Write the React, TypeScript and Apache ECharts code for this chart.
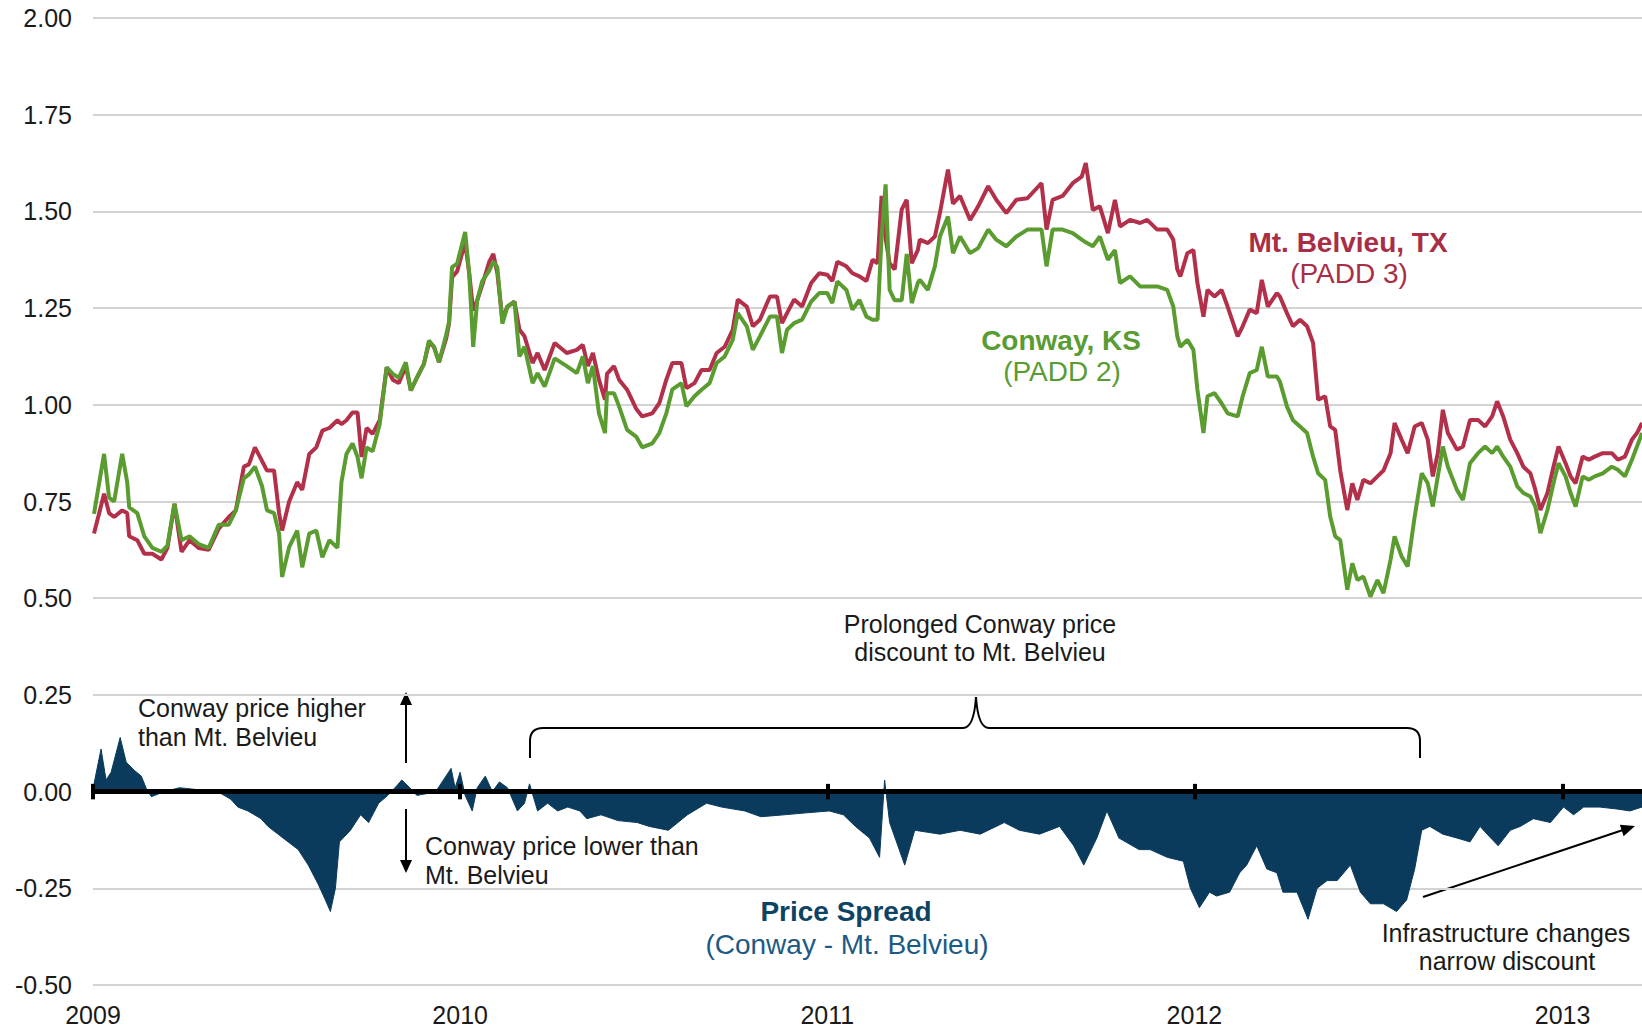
import React, { useEffect, useRef } from "react";
import * as echarts from "echarts";

// ---------- data (x = days since 2009-01-01) ----------
const yearTicks = [2009, 2010, 2011, 2012, 2013];
const yMin = -0.5;
const yMax = 2.0;
const yStep = 0.25;

const priceDays = [
  1, 11, 16, 21, 29, 34, 36, 44, 51, 59, 68, 74, 81, 88, 96, 105, 115, 125, 135, 142,
  150, 155, 161, 168, 173, 180, 185, 188, 195, 203, 208, 215, 222, 228, 235, 243, 247, 252, 258, 263,
  267, 272, 278, 285, 292, 298, 304, 311, 316, 322, 329, 334, 339, 344, 351, 354, 357, 362, 370, 374,
  378, 382, 387, 394, 398, 402, 407,
  412, 419, 424, 429, 437, 442, 449, 459, 471, 481, 487, 492, 497, 503, 509, 511, 518, 523, 531, 540,
  546, 556, 563, 570, 576, 585, 590, 598, 605, 613, 620, 628, 636, 641, 650, 656, 663, 673, 680, 685,
  690, 697, 705, 714, 722, 730, 735, 740, 749, 755, 762, 769, 775, 780, 784, 788, 792, 797, 804, 809,
  814, 820,
  822, 830, 837, 842, 850, 855, 862, 872, 880, 890, 898, 908, 918, 929, 943, 948, 954, 964, 974, 983,
  987, 994, 1001, 1009, 1016, 1021, 1031, 1041, 1048, 1058, 1068, 1074, 1078, 1081, 1088, 1094, 1098, 1104, 1108, 1115,
  1122, 1128, 1138, 1143, 1150, 1157, 1162, 1168, 1177, 1180,
  1187, 1193, 1200, 1207, 1213, 1218, 1225, 1230, 1235, 1240, 1247, 1252, 1257, 1263, 1270, 1277, 1283, 1290, 1294, 1301,
  1307, 1314, 1321, 1327, 1332, 1337, 1342, 1347, 1356, 1362, 1369, 1377, 1384, 1391, 1396, 1402, 1409, 1416, 1422, 1429,
  1434, 1439, 1446, 1452, 1457, 1464, 1469, 1474, 1481, 1487, 1493, 1501, 1510, 1516, 1523, 1530, 1535, 1540,
];

// Mt. Belvieu, TX (PADD 3)
const belvieu = [
  0.667, 0.77, 0.72, 0.71, 0.727, 0.72, 0.66, 0.65, 0.615, 0.615, 0.6, 0.63, 0.744, 0.62, 0.65, 0.63, 0.625, 0.68, 0.71, 0.727,
  0.84, 0.846, 0.89, 0.855, 0.83, 0.83, 0.72, 0.675, 0.75, 0.8, 0.78, 0.873, 0.89, 0.933, 0.94, 0.96, 0.95, 0.96, 0.98, 0.98,
  0.865, 0.94, 0.925, 0.96, 1.097, 1.065, 1.056, 1.1, 1.037, 1.07, 1.106, 1.16, 1.15, 1.11, 1.17, 1.21, 1.33, 1.345, 1.42, 1.34,
  1.244, 1.27, 1.31, 1.37, 1.39, 1.34, 1.22,
  1.254, 1.267, 1.194, 1.177, 1.108, 1.134, 1.09, 1.16, 1.134, 1.142, 1.155, 1.1, 1.134, 1.065, 1.013, 1.08, 1.1, 1.065, 1.039, 0.99,
  0.97, 0.978, 1.004, 1.065, 1.108, 1.108, 1.043, 1.056, 1.09, 1.09, 1.134, 1.15, 1.194, 1.272, 1.254, 1.203, 1.22, 1.28, 1.28, 1.211,
  1.237, 1.272, 1.254, 1.315, 1.34, 1.336, 1.32, 1.37, 1.358, 1.34, 1.332, 1.32, 1.375, 1.366, 1.54, 1.43, 1.366, 1.35, 1.505, 1.53,
  1.366, 1.4,
  1.427, 1.418, 1.435, 1.496, 1.608, 1.52, 1.54, 1.478, 1.513, 1.565, 1.53, 1.496, 1.53, 1.534, 1.573, 1.453, 1.53, 1.54, 1.573, 1.59,
  1.625, 1.504, 1.513, 1.444, 1.53, 1.461, 1.478, 1.47, 1.478, 1.453, 1.453, 1.427, 1.35, 1.332, 1.392, 1.4, 1.315, 1.228, 1.297, 1.28,
  1.297, 1.254, 1.177, 1.203, 1.246, 1.237, 1.323, 1.254, 1.289, 1.28,
  1.237, 1.203, 1.22, 1.203, 1.16, 1.013, 1.022, 0.944, 0.935, 0.83, 0.728, 0.797, 0.754, 0.806, 0.797, 0.815, 0.83, 0.875, 0.953, 0.91,
  0.875, 0.944, 0.953, 0.91, 0.815, 0.875, 0.987, 0.927, 0.884, 0.892, 0.961, 0.961, 0.944, 0.97, 1.009, 0.97, 0.91, 0.875, 0.84, 0.823,
  0.78, 0.728, 0.772, 0.84, 0.892, 0.849, 0.815, 0.797, 0.866, 0.858, 0.866, 0.875, 0.875, 0.858, 0.866, 0.91, 0.927, 0.953,
];

// Conway, KS (PADD 2)
const conway = [
  0.718, 0.873, 0.76, 0.75, 0.873, 0.8, 0.735, 0.72, 0.66, 0.63, 0.62, 0.636, 0.744, 0.65, 0.66, 0.64, 0.63, 0.69, 0.69, 0.727,
  0.81, 0.82, 0.84, 0.79, 0.727, 0.72, 0.667, 0.555, 0.632, 0.675, 0.58, 0.667, 0.675, 0.606, 0.65, 0.63, 0.8, 0.873, 0.9, 0.865,
  0.81, 0.89, 0.88, 0.95, 1.097, 1.08, 1.07, 1.11, 1.037, 1.07, 1.106, 1.166, 1.15, 1.11, 1.18, 1.215, 1.356, 1.365, 1.447, 1.34,
  1.15, 1.27, 1.32, 1.347, 1.37, 1.356, 1.21,
  1.254, 1.267, 1.125, 1.15, 1.056, 1.082, 1.047, 1.12, 1.1, 1.082, 1.125, 1.056, 1.1, 0.978, 0.927, 1.03, 1.03, 0.996, 0.935, 0.918,
  0.89, 0.9, 0.927, 0.978, 1.04, 1.056, 0.996, 1.022, 1.039, 1.056, 1.108, 1.125, 1.168, 1.237, 1.203, 1.142, 1.177, 1.228, 1.228, 1.134,
  1.194, 1.211, 1.22, 1.267, 1.289, 1.289, 1.263, 1.319, 1.297, 1.246, 1.271, 1.228, 1.22, 1.22, 1.435, 1.57, 1.297, 1.27, 1.27, 1.39,
  1.263, 1.315,
  1.323, 1.297, 1.358, 1.435, 1.487, 1.392, 1.435, 1.392, 1.405, 1.453, 1.427, 1.41, 1.435, 1.453, 1.453, 1.358, 1.453, 1.453, 1.444, 1.427,
  1.42, 1.41, 1.435, 1.375, 1.4, 1.315, 1.332, 1.306, 1.306, 1.306, 1.297, 1.254, 1.177, 1.15, 1.168, 1.142, 1.039, 0.927, 1.022, 1.03,
  1.004, 0.978, 0.97, 1.022, 1.082, 1.09, 1.15, 1.073, 1.073, 1.06,
  0.996, 0.96, 0.944, 0.927, 0.866, 0.823, 0.806, 0.711, 0.66, 0.65, 0.522, 0.59, 0.547, 0.556, 0.504, 0.547, 0.513, 0.599, 0.66, 0.608,
  0.582, 0.711, 0.823, 0.797, 0.737, 0.815, 0.892, 0.84, 0.78, 0.754, 0.849, 0.875, 0.892, 0.875, 0.892, 0.866, 0.84, 0.789, 0.772, 0.763,
  0.737, 0.668, 0.728, 0.797, 0.849, 0.815, 0.772, 0.737, 0.815, 0.806, 0.815, 0.823, 0.84, 0.832, 0.815, 0.858, 0.892, 0.927,
];

// Price spread (Conway - Mt. Belvieu)
const spreadDays = [
  1, 8, 13, 18, 27, 33, 41, 48, 53, 58, 71, 86, 104, 124, 137, 144, 154, 167, 174, 184,
  194, 204, 214, 224, 231, 236, 241, 245, 256, 266, 274, 284, 293, 302, 307, 315, 322, 332, 342, 356,
  360, 365, 370, 377, 382, 390, 397, 404, 412, 422, 429, 434, 442, 452, 462, 472, 484, 491, 505, 522,
  541, 553, 572, 591, 610, 625, 648, 664, 687, 709, 732, 746, 758, 772, 782, 787, 792, 807, 817, 842,
  862, 882, 906, 921, 941, 961, 975, 985, 998, 1008, 1020, 1040, 1051, 1068, 1084, 1091, 1100, 1110, 1117, 1130,
  1140, 1147, 1157, 1167, 1177, 1183, 1197, 1208, 1217, 1227, 1237, 1250, 1260, 1270, 1283, 1296, 1306, 1314, 1321, 1329,
  1342, 1356, 1369, 1379, 1386, 1397, 1409, 1419, 1432, 1449, 1462, 1472, 1482, 1498, 1515, 1528, 1540,
];
const spread = [
  0.02, 0.11, 0.03, 0.05, 0.14, 0.076, 0.055, 0.04, 0.008, -0.013, 0.0, 0.01, 0.005, 0.0, -0.02, -0.04, -0.05, -0.07, -0.09, -0.11,
  -0.13, -0.15, -0.19, -0.24, -0.28, -0.31, -0.25, -0.13, -0.1, -0.06, -0.08, -0.03, -0.01, 0.015, 0.03, 0.01, -0.01, -0.005, 0.005, 0.06,
  0.01, 0.05, -0.01, -0.05, 0.01, 0.04, 0.0, 0.025, 0.01, -0.05, -0.03, 0.02, -0.05, -0.03, -0.05, -0.04, -0.05, -0.07, -0.06, -0.075,
  -0.08, -0.09, -0.1, -0.06, -0.03, -0.04, -0.05, -0.065, -0.06, -0.055, -0.05, -0.06, -0.09, -0.12, -0.17, 0.03, -0.08, -0.19, -0.1, -0.11,
  -0.1, -0.11, -0.08, -0.1, -0.11, -0.09, -0.14, -0.19, -0.12, -0.05, -0.12, -0.15, -0.15, -0.17, -0.18, -0.25, -0.3, -0.26, -0.27, -0.26,
  -0.21, -0.19, -0.14, -0.2, -0.21, -0.26, -0.26, -0.33, -0.25, -0.23, -0.23, -0.19, -0.26, -0.29, -0.29, -0.31, -0.28, -0.2, -0.1, -0.09,
  -0.11, -0.12, -0.13, -0.09, -0.11, -0.14, -0.1, -0.09, -0.07, -0.08, -0.04, -0.06, -0.04, -0.04, -0.045, -0.05, -0.04,
];

// ---------- helpers / styles ----------
const DAY_MS = 86400000;
const ORIGIN = Date.UTC(2009, 0, 1);
const X_MAX_DAY = 1540; // 2013-03-21, right edge of the plot
const yearDays = yearTicks.map((y) => Math.round((Date.UTC(y, 0, 1) - ORIGIN) / DAY_MS));
const FONT = "'Liberation Sans', Arial, Helvetica, sans-serif";
const RED = "#b2304a";
const GREEN = "#5b9c31";
const NAVY = "#0b3b5c";
const TEXT = "#1a1a1a";

const toPairs = (days: number[], vals: number[]) => days.map((d, i) => [d, vals[i]]);

const BRACE_D =
  "M530,758 L530,741 Q530,728 543,728 L963,728 Q974,728 976,697 Q978,728 989,728 L1407,728 Q1420,728 1420,741 L1420,758";

function txt(text: string, x: number, y: number, opts: any = {}) {
  return {
    type: "text",
    x,
    y,
    silent: true,
    style: {
      text,
      fill: opts.fill || TEXT,
      fontSize: opts.fontSize || 25,
      fontWeight: opts.fontWeight || "normal",
      fontFamily: FONT,
      align: opts.align || "center",
      verticalAlign: "middle",
    },
  };
}

function arrowHead(tip: number[], dir: number[], len = 13, half = 6) {
  const l = Math.hypot(dir[0], dir[1]);
  const ux = dir[0] / l;
  const uy = dir[1] / l;
  const bx = tip[0] - ux * len;
  const by = tip[1] - uy * len;
  const nx = -uy;
  const ny = ux;
  return {
    type: "polygon",
    silent: true,
    shape: {
      points: [
        [tip[0], tip[1]],
        [bx + nx * half, by + ny * half],
        [bx - nx * half, by - ny * half],
      ],
    },
    style: { fill: "#000" },
  };
}

export default function App() {
  const ref = useRef<HTMLDivElement>(null);

  useEffect(() => {
    if (!ref.current) return;
    echarts.graphic.registerShape("brace", echarts.graphic.extendPath(BRACE_D, {}) as any);
    const chart = echarts.init(ref.current, null, { renderer: "svg" });

    const option: any = {
      animation: false,
      backgroundColor: "#ffffff",
      grid: { left: 93, right: 0, top: 18, bottom: 44, containLabel: false },
      xAxis: {
        type: "value",
        min: 0,
        max: X_MAX_DAY,
        axisLine: { show: false },
        axisTick: { show: false },
        splitLine: { show: false },
        axisLabel: {
          customValues: yearDays,
          formatter: (v: number) => {
            const i = yearDays.indexOf(Math.round(v));
            return i >= 0 ? String(yearTicks[i]) : "";
          },
          fontSize: 25,
          fontFamily: FONT,
          color: TEXT,
          margin: 17,
        },
      },
      yAxis: {
        type: "value",
        min: yMin,
        max: yMax,
        interval: yStep,
        axisLine: { show: false },
        axisTick: { show: false },
        axisLabel: {
          formatter: (v: number) => v.toFixed(2),
          fontSize: 25,
          fontFamily: FONT,
          color: TEXT,
          margin: 21,
        },
        splitLine: { lineStyle: { color: "#d3d3d3", width: 2 } },
      },
      series: [
        {
          name: "Price Spread",
          type: "line",
          data: toPairs(spreadDays, spread),
          symbol: "none",
          silent: true,
          lineStyle: { color: NAVY, width: 1 },
          areaStyle: { color: NAVY, opacity: 1 },
          z: 2,
          markLine: {
            silent: true,
            symbol: ["none", "none"],
            label: { show: false },
            lineStyle: { color: "#000", width: 4, type: "solid" },
            data: [
              { yAxis: 0, lineStyle: { color: "#000", width: 5, type: "solid" } },
              ...yearDays.map((d) => [{ coord: [d, 0.02] }, { coord: [d, -0.02] }]),
            ],
          },
        },
        {
          name: "Mt. Belvieu, TX",
          type: "line",
          data: toPairs(priceDays, belvieu),
          symbol: "none",
          silent: true,
          lineStyle: { color: RED, width: 4 },
          z: 3,
        },
        {
          name: "Conway, KS",
          type: "line",
          data: toPairs(priceDays, conway),
          symbol: "none",
          silent: true,
          lineStyle: { color: GREEN, width: 4 },
          z: 4,
        },
      ],
      graphic: [
        txt("Mt. Belvieu, TX", 1348, 242, { fill: "#a82e47", fontSize: 28, fontWeight: "bold" }),
        txt("(PADD 3)", 1349, 273, { fill: "#a82e47", fontSize: 28 }),
        txt("Conway, KS", 1061, 340, { fill: "#5a9c34", fontSize: 28, fontWeight: "bold" }),
        txt("(PADD 2)", 1062, 371, { fill: "#5a9c34", fontSize: 28 }),
        txt("Price Spread", 846, 911, { fill: "#0e4463", fontSize: 28, fontWeight: "bold" }),
        txt("(Conway - Mt. Belvieu)", 847, 944, { fill: "#1d5a83", fontSize: 28 }),
        txt("Prolonged Conway price", 980, 624),
        txt("discount to Mt. Belvieu", 980, 652),
        txt("Conway price higher", 138, 708, { align: "left" }),
        txt("than Mt. Belvieu", 138, 737, { align: "left" }),
        txt("Conway price lower than", 425, 846, { align: "left" }),
        txt("Mt. Belvieu", 425, 875, { align: "left" }),
        txt("Infrastructure changes", 1506, 933),
        txt("narrow discount", 1507, 961),
        {
          type: "line",
          silent: true,
          shape: { x1: 406, y1: 763, x2: 406, y2: 704 },
          style: { stroke: "#000", lineWidth: 2 },
        },
        arrowHead([406, 692], [0, -1]),
        {
          type: "line",
          silent: true,
          shape: { x1: 406, y1: 809, x2: 406, y2: 861 },
          style: { stroke: "#000", lineWidth: 2 },
        },
        arrowHead([406, 873], [0, 1]),
        {
          type: "line",
          silent: true,
          shape: { x1: 1423, y1: 897, x2: 1623, y2: 830 },
          style: { stroke: "#000", lineWidth: 2 },
        },
        arrowHead([1635, 826], [212, -71], 14, 6),
        {
          type: "brace",
          x: 0,
          y: 0,
          silent: true,
          style: { stroke: "#000", lineWidth: 2, fill: "none" },
        },
      ],
    };

    chart.setOption(option);
    return () => {
      chart.dispose();
    };
  }, []);

  return (
    <div
      ref={ref}
      style={{ position: "fixed", left: 0, top: 0, width: 1642, height: 1029, background: "#fff" }}
    />
  );
}
